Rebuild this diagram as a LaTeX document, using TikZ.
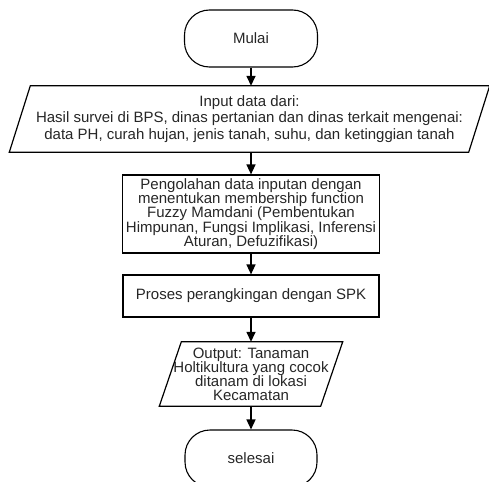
\documentclass[tikz,border=0pt]{standalone}
\usepackage{fontspec}
\setmainfont{Liberation Sans}
\usetikzlibrary{arrows.meta}
\begin{document}
\begin{tikzpicture}[x=1pt,y=-1pt,
  base/.style={draw=none,inner sep=0pt,align=center,font=\fontsize{15}{14.4}\selectfont,text=black!85},
  term/.style={base,draw,line width=1.1pt,rounded corners=25pt,minimum width=133pt,minimum height=57pt},
  boxnode/.style={base,draw,line width=1.2pt,minimum width=257pt},
  ionode/.style={base,minimum height=64pt},
  flow/.style={line width=1.5pt,-{Triangle[length=10pt,width=9pt]}},
  edge/.style={line width=1.2pt}]
\clip (0,0) rectangle (489,481);
\useasboundingbox (0,0) rectangle (489,481);
\node[term] (mulai) at (251,38.5) {Mulai};
\node[ionode,minimum width=459pt,minimum height=66pt,font=\fontsize{15}{16.7}\selectfont] (in) at (249.5,119)
  {Input data dari:\\Hasil survei di BPS, dinas pertanian dan dinas terkait mengenai:\\data PH, curah hujan, jenis tanah, suhu, dan ketinggian tanah};
\draw[edge] ([xshift=10.5pt]in.north west) -- ([xshift=10.5pt]in.north east) -- ([xshift=-10.5pt]in.south east) -- ([xshift=-10.5pt]in.south west) -- cycle;
\node[boxnode,minimum height=78pt] (proc) at (251,214)
  {Pengolahan data inputan dengan\\menentukan membership function\\Fuzzy Mamdani (Pembentukan\\Himpunan, Fungsi Implikasi, Inferensi\\Aturan, Defuzifikasi)};
\node[boxnode,minimum width=256pt,minimum height=42pt] (rank) at (251,296) {Proses perangkingan dengan SPK};
\node[ionode,minimum width=161pt,font=\fontsize{15}{14.1}\selectfont] (out) at (251,374)
  {Output: Tanaman\\Holtikultura yang cocok\\ditanam di lokasi\\Kecamatan};
\draw[edge] ([xshift=11pt]out.north west) -- ([xshift=11pt]out.north east) -- ([xshift=-11pt]out.south east) -- ([xshift=-11pt]out.south west) -- cycle;
\node[term,minimum width=132pt] (end) at (251,458.5) {selesai};
\draw[flow] (mulai) -- (mulai |- in.north);
\draw[flow] (proc |- in.south) -- (proc);
\draw[flow] (proc) -- (rank);
\draw[flow] (rank) -- (out);
\draw[flow] (out) -- (end);
\end{tikzpicture}
\end{document}
